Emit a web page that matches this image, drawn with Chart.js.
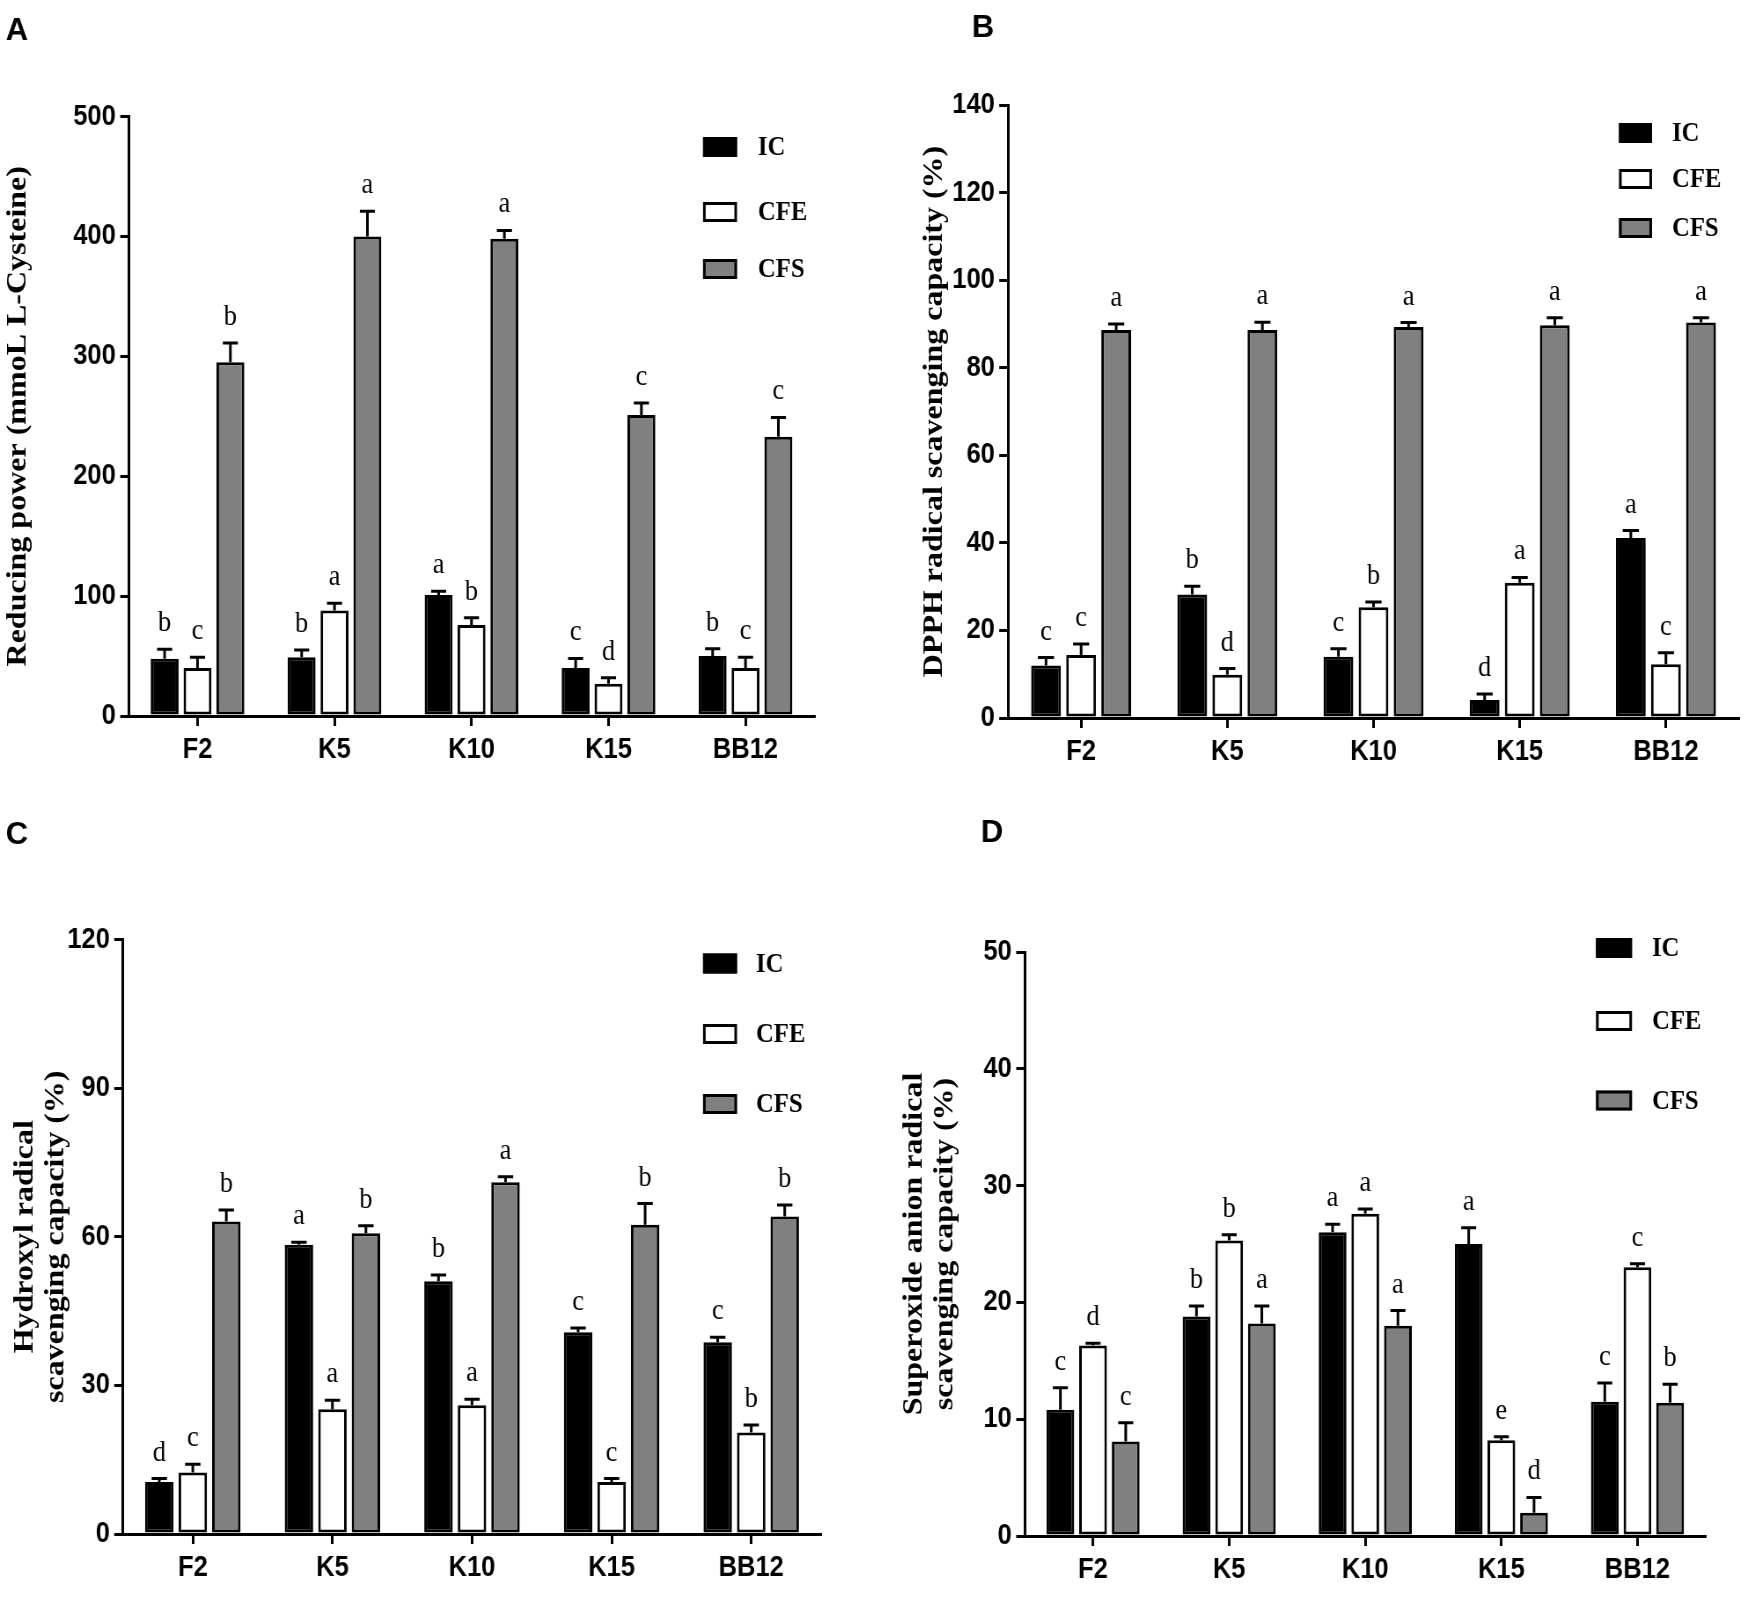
<!DOCTYPE html>
<html>
<head>
<meta charset="utf-8">
<script src="https://cdn.jsdelivr.net/npm/chart.js@4.4.1/dist/chart.umd.min.js"></script>
<style>
html,body{margin:0;padding:0;background:#fff;}
body{width:1750px;height:1605px;position:relative;overflow:hidden;}
.panel{position:absolute;overflow:hidden;}
.panel canvas{transform-origin:0 0;display:block;}
</style>
</head>
<body>
<div class="panel" style="left:0;top:0;width:875px;height:800px"><canvas id="cA"></canvas></div>
<div class="panel" style="left:875px;top:0;width:875px;height:800px"><canvas id="cB"></canvas></div>
<div class="panel" style="left:0;top:800px;width:875px;height:805px"><canvas id="cC"></canvas></div>
<div class="panel" style="left:875px;top:800px;width:875px;height:805px"><canvas id="cD"></canvas></div>
<script>
const categories = ['F2', 'K5', 'K10', 'K15', 'BB12'];
const seriesNames = ['IC', 'CFE', 'CFS'];
const fills = ['#000000', '#ffffff', '#808080'];

// A - reducing power
const redTicks = [0, 100, 200, 300, 400, 500];
const redIC = [47.7, 49, 101, 40, 50];
const redCFE = [40, 88, 76, 27, 40];
const redCFS = [295, 400, 398, 251, 233];
const redIC_sd = [8, 6, 3, 8, 6];
const redCFE_sd = [9, 6, 6, 5, 9];
const redCFS_sd = [16, 21, 7, 10, 16];
const redIC_sig = ['b', 'b', 'a', 'c', 'b'];
const redCFE_sig = ['c', 'a', 'b', 'd', 'c'];
const redCFS_sig = ['b', 'a', 'a', 'c', 'c'];

// B - DPPH
const dpphTicks = [0, 20, 40, 60, 80, 100, 120, 140];
const dpphIC = [12.0, 28.2, 14.0, 4.1, 41.1];
const dpphCFE = [14.4, 9.9, 25.3, 30.9, 12.3];
const dpphCFS = [88.6, 88.6, 89.3, 89.7, 90.3];
const dpphIC_sd = [1.8, 1.9, 1.8, 1.4, 1.7];
const dpphCFE_sd = [2.5, 1.4, 1.2, 1.2, 2.6];
const dpphCFS_sd = [1.4, 1.8, 1.0, 1.7, 1.1];
const dpphIC_sig = ['c', 'b', 'c', 'd', 'a'];
const dpphCFE_sig = ['c', 'd', 'b', 'a', 'c'];
const dpphCFS_sig = ['a', 'a', 'a', 'a', 'a'];

// C - hydroxyl radical
const hydTicks = [0, 30, 60, 90, 120];
const hydIC = [10.5, 58.4, 51.0, 40.7, 38.7];
const hydCFE = [12.4, 25.2, 26.0, 10.5, 20.5];
const hydCFS = [63.1, 60.7, 71.0, 62.4, 64.1];
const hydIC_sd = [0.7, 0.5, 1.3, 0.9, 1.0];
const hydCFE_sd = [1.7, 1.8, 1.2, 0.7, 1.5];
const hydCFS_sd = [2.3, 1.5, 1.1, 4.3, 2.3];
const hydIC_sig = ['d', 'a', 'b', 'c', 'c'];
const hydCFE_sig = ['c', 'a', 'a', 'c', 'b'];
const hydCFS_sig = ['b', 'b', 'a', 'b', 'b'];

// D - superoxide anion
const supTicks = [0, 10, 20, 30, 40, 50];
const supIC = [10.8, 18.8, 26.0, 25.0, 11.5];
const supCFE = [16.3, 25.3, 27.6, 8.2, 23.0];
const supCFS = [8.1, 18.2, 18.0, 2.0, 11.4];
const supIC_sd = [1.9, 0.9, 0.7, 1.4, 1.6];
const supCFE_sd = [0.2, 0.5, 0.4, 0.3, 0.3];
const supCFS_sd = [1.6, 1.5, 1.3, 1.3, 1.6];
const supIC_sig = ['c', 'b', 'a', 'a', 'c'];
const supCFE_sig = ['d', 'b', 'a', 'e', 'c'];
const supCFS_sig = ['c', 'a', 'a', 'd', 'b'];

// the figure is squeezed sideways, so every panel is drawn wider and scaled back
const SX = 0.88;
const serif = "'Liberation Serif', 'Times New Roman', serif";
const sans = "'Liberation Sans', Arial, sans-serif";

const errPlugin = {
  id: 'errbars',
  afterDatasetsDraw(chart, args, opts) {
    const ctx = chart.ctx, y = chart.scales.y;
    ctx.save();
    chart.data.datasets.forEach((ds, i) => {
      chart.getDatasetMeta(i).data.forEach((bar, j) => {
        const top = y.getPixelForValue(ds.data[j] + ds.sd[j]);
        const half = bar.width * 0.27;
        ctx.strokeStyle = '#000';
        ctx.lineWidth = 3;
        ctx.beginPath();
        ctx.moveTo(bar.x, bar.y);
        ctx.lineTo(bar.x, top);
        ctx.moveTo(bar.x - half, top);
        ctx.lineTo(bar.x + half, top);
        ctx.stroke();
        ctx.fillStyle = '#000';
        ctx.font = '30px ' + serif;
        ctx.textAlign = 'center';
        ctx.textBaseline = 'alphabetic';
        ctx.fillText(ds.sig[j], bar.x, top - opts.gap);
      });
    });
    ctx.restore();
  }
};

const decoPlugin = {
  id: 'deco',
  afterDraw(chart, args, o) {
    const ctx = chart.ctx;
    ctx.save();
    // panel letter is not squeezed in the figure
    ctx.save();
    ctx.translate(o.tagX / SX, o.tagY);
    ctx.scale(1 / SX, 1);
    ctx.fillStyle = '#000';
    ctx.font = 'bold 31px ' + sans;
    ctx.textAlign = 'center';
    ctx.textBaseline = 'middle';
    ctx.fillText(o.tag, 0, 0);
    ctx.restore();
    chart.data.datasets.forEach((ds, i) => {
      const cy = o.rows[i];
      const x = o.boxX / SX, w = o.boxW / SX, h = o.boxH;
      ctx.fillStyle = ds.backgroundColor;
      ctx.fillRect(x, cy - h / 2, w, h);
      ctx.strokeStyle = '#000';
      ctx.lineWidth = 3;
      ctx.strokeRect(x + 1.5, cy - h / 2 + 1.5, w - 3, h - 3);
      ctx.fillStyle = '#000';
      ctx.font = 'bold 28px ' + serif;
      ctx.textAlign = 'left';
      ctx.textBaseline = 'middle';
      ctx.fillText(ds.label, o.textX / SX, cy + 1);
    });
    ctx.restore();
  }
};

function makePanel(id, box, geo, leg, series, ticks, title) {
  const W = Math.round(box.w / SX), H = box.h;
  const cv = document.getElementById(id);
  cv.width = W;
  cv.height = H;
  cv.style.width = W + 'px';
  cv.style.height = H + 'px';
  cv.style.transform = 'scaleX(' + SX + ')';
  const fs = 32, lh = 1.1;
  const tickFont = {family: sans, size: 29, weight: 'bold'};
  new Chart(cv, {
    type: 'bar',
    data: {
      labels: categories,
      datasets: series.map((s, i) => ({
        label: seriesNames[i],
        data: s.v, sd: s.sd, sig: s.sig,
        backgroundColor: fills[i],
        borderColor: '#000',
        borderWidth: 3,
        borderSkipped: false,
        categoryPercentage: 0.72,
        barPercentage: 0.85
      }))
    },
    options: {
      responsive: false,
      animation: false,
      devicePixelRatio: 1,
      layout: {autoPadding: false, padding: {left: 0, top: geo.top, right: W - geo.right / SX, bottom: 0}},
      plugins: {
        legend: {display: false},
        tooltip: {enabled: false},
        errbars: {gap: 18},
        deco: leg
      },
      scales: {
        x: {
          offset: true,
          grid: {offset: false, drawOnChartArea: false, color: '#000', lineWidth: 3, tickLength: 10},
          border: {color: '#000', width: 3},
          ticks: {color: '#000', font: tickFont, padding: 7, maxRotation: 0},
          afterFit(s) { s.height = H - geo.bottom; }
        },
        y: {
          min: 0,
          max: ticks[ticks.length - 1],
          ticks: {stepSize: ticks[1] - ticks[0], color: '#000', font: tickFont, padding: 5},
          grid: {drawOnChartArea: false, color: '#000', lineWidth: 3, tickLength: 10},
          border: {color: '#000', width: 3},
          title: {
            display: true, text: title, color: '#000',
            font: {family: serif, size: fs, weight: 'bold', lineHeight: lh},
            padding: {top: geo.titleX / SX - fs * lh / 2, bottom: 0}
          },
          afterFit(s) { s.width = geo.left / SX; }
        }
      }
    },
    plugins: [errPlugin, decoPlugin]
  });
}

makePanel('cA', {w: 875, h: 800},
  {left: 129, right: 814, top: 116.5, bottom: 716, titleX: 18},
  {tag: 'A', tagX: 17, tagY: 31, boxX: 703, boxW: 34, boxH: 20, rows: [147, 212, 269], textX: 758},
  [{v: redIC, sd: redIC_sd, sig: redIC_sig}, {v: redCFE, sd: redCFE_sd, sig: redCFE_sig}, {v: redCFS, sd: redCFS_sd, sig: redCFS_sig}],
  redTicks, 'Reducing power (mmoL L-Cysteine)');

makePanel('cB', {w: 875, h: 800},
  {left: 133, right: 864, top: 105, bottom: 718, titleX: 60},
  {tag: 'B', tagX: 108, tagY: 28, boxX: 744, boxW: 33, boxH: 20, rows: [133, 179, 228], textX: 797},
  [{v: dpphIC, sd: dpphIC_sd, sig: dpphIC_sig}, {v: dpphCFE, sd: dpphCFE_sd, sig: dpphCFE_sig}, {v: dpphCFS, sd: dpphCFS_sd, sig: dpphCFS_sig}],
  dpphTicks, 'DPPH radical scavenging capacity (%)');

makePanel('cC', {w: 875, h: 805},
  {left: 123, right: 821, top: 139.5, bottom: 734, titleX: 25},
  {tag: 'C', tagX: 17, tagY: 35, boxX: 703, boxW: 34, boxH: 20, rows: [163.5, 234, 304], textX: 756},
  [{v: hydIC, sd: hydIC_sd, sig: hydIC_sig}, {v: hydCFE, sd: hydCFE_sd, sig: hydCFE_sig}, {v: hydCFS, sd: hydCFS_sd, sig: hydCFS_sig}],
  hydTicks, ['Hydroxyl radical', 'scavenging capacity (%)']);

makePanel('cD', {w: 875, h: 805},
  {left: 150, right: 830.5, top: 152, bottom: 736, titleX: 39},
  {tag: 'D', tagX: 117, tagY: 33, boxX: 721, boxW: 36, boxH: 20, rows: [148, 221, 300.5], textX: 777},
  [{v: supIC, sd: supIC_sd, sig: supIC_sig}, {v: supCFE, sd: supCFE_sd, sig: supCFE_sig}, {v: supCFS, sd: supCFS_sd, sig: supCFS_sig}],
  supTicks, ['Superoxide anion radical', 'scavenging capacity (%)']);
</script>
</body>
</html>
